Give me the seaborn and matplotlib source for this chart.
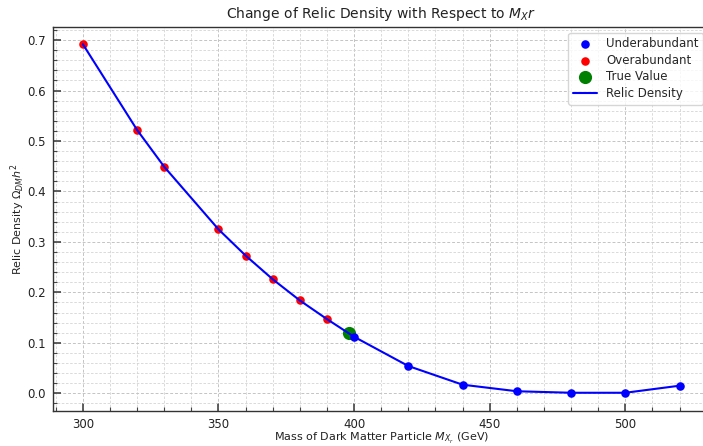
import matplotlib
matplotlib.use("Agg")
import matplotlib.pyplot as plt
import seaborn as sns
import pandas as pd
import numpy as np
from matplotlib.ticker import MultipleLocator

mass = [300, 320, 330, 350, 360, 370, 380, 390, 400, 420, 440, 460, 480, 500, 520]
relic = [0.692, 0.522, 0.449, 0.325, 0.273, 0.226, 0.184, 0.147, 0.112, 0.054, 0.017, 0.004, 0.001, 0.001, 0.015]
true_mass = [398]
true_relic = [0.12]
threshold = 0.12

sns.set_style("ticks")
plt.rcParams['font.family'] = ['DejaVu Sans']
plt.rcParams['xtick.bottom'] = True
plt.rcParams['ytick.left'] = True

df = pd.DataFrame({"mass": mass, "relic": relic})
under = df[df["relic"] < threshold]
over = df[df["relic"] >= threshold]
true_df = pd.DataFrame({"mass": true_mass, "relic": true_relic})

fig = plt.figure(figsize=(7.03, 4.46), dpi=100)
ax = fig.add_axes([0.0754, 0.0791, 0.9337, 0.861])

sns.scatterplot(data=under, x="mass", y="relic", color="blue", s=38, linewidth=0,
                label="Underabundant", ax=ax, zorder=3)
sns.scatterplot(data=over, x="mass", y="relic", color="red", s=38, linewidth=0,
                label="Overabundant", ax=ax, zorder=3)
sns.scatterplot(data=true_df, x="mass", y="relic", color="green", s=90, linewidth=0,
                label="True Value", ax=ax, zorder=2)
sns.lineplot(data=df, x="mass", y="relic", color="blue", linewidth=1.5,
             label="Relic Density", ax=ax, zorder=4)

ax.set_xlim(289, 531)
ax.set_ylim(-0.0346, 0.7266)
ax.xaxis.set_major_locator(MultipleLocator(50))
ax.xaxis.set_minor_locator(MultipleLocator(10))
ax.yaxis.set_major_locator(MultipleLocator(0.1))
ax.yaxis.set_minor_locator(MultipleLocator(0.02))
ax.tick_params(which="both", direction="in", colors="#444444", labelcolor="#222222",
               bottom=True, left=True, top=False, right=False)
ax.tick_params(which="major", length=6, width=1.2, labelsize=8.5, pad=5)
ax.tick_params(which="minor", length=3, width=0.8)
ax.set_axisbelow(True)
ax.grid(which="major", linestyle=(0, (3, 2)), color="#c4c4c4", linewidth=0.7)
ax.grid(which="minor", linestyle=(0, (3, 2)), color="#d4d4d4", linewidth=0.6)
for sp in ax.spines.values():
    sp.set_visible(True)
    sp.set_color("#333333")
    sp.set_linewidth(1.0)

ax.set_title(r"Change of Relic Density with Respect to $M_X r$", fontsize=10, color="#222222", pad=6)
ax.set_xlabel(r"Mass of Dark Matter Particle $M_{X_r}$ (GeV)", fontsize=8, color="#222222", labelpad=0)
ax.set_ylabel(r"Relic Density $\Omega_{DM}h^2$", fontsize=8, color="#222222", labelpad=0)
leg = ax.legend(loc="upper right", fontsize=8.5, frameon=True, labelspacing=0.3)
leg.get_frame().set_edgecolor("#cccccc")

fig.savefig("out.png", dpi=100)
